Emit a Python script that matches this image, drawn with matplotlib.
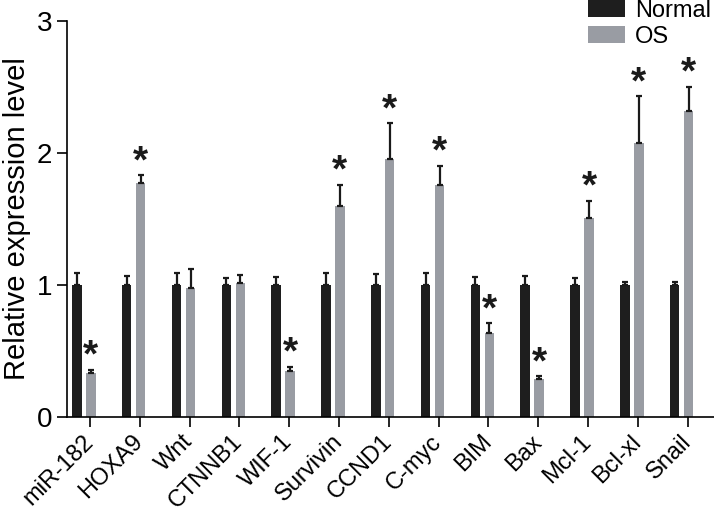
import matplotlib.pyplot as plt
import numpy as np

plt.rcParams['font.family'] = ['Liberation Sans', 'DejaVu Sans']

genes = ['miR-182', 'HOXA9', 'Wnt', 'CTNNB1', 'WIF-1', 'Survivin', 'CCND1',
         'C-myc', 'BIM', 'Bax', 'Mcl-1', 'Bcl-xl', 'Snail']
normal = [1.0] * 13
normal_err = [0.09, 0.07, 0.09, 0.05, 0.06, 0.09, 0.08, 0.09, 0.06, 0.07, 0.05, 0.025, 0.025]
os_vals = [0.33, 1.775, 0.975, 1.015, 0.345, 1.60, 1.955, 1.755, 0.64, 0.285, 1.505, 2.075, 2.315]
os_err = [0.03, 0.055, 0.145, 0.06, 0.033, 0.16, 0.27, 0.15, 0.07, 0.023, 0.135, 0.355, 0.185]
signif = [True, True, False, False, True, True, True, True, True, True, True, True, True]

fig = plt.figure(figsize=(7.14, 5.09), dpi=100)
ax = fig.add_axes([0.0938, 0.1807, 0.9062, 0.778])

x = np.arange(len(genes))
w = 0.19
ekw = dict(elinewidth=1.6, capsize=2.5, capthick=1.6, ecolor='#1a1a1a')
ax.bar(x - 0.26, normal, w, color='#1e1e1e', label='Normal',
       yerr=[np.zeros(13), normal_err], error_kw=ekw)
ax.bar(x + 0.02, os_vals, w, color='#999ca3', label='OS',
       yerr=[np.zeros(13), os_err], error_kw=ekw)

for i in range(len(genes)):
    if signif[i]:
        ax.text(x[i] + 0.02, os_vals[i] + os_err[i] + 0.1, '*', ha='center',
                va='center', fontsize=28, fontweight='bold', color='#1a1a1a')

ax.set_xlim(-0.46, 12.53)
ax.set_ylim(0, 3)
ax.set_yticks([0, 1, 2, 3])
ax.set_xticks(x)
ax.set_xticklabels(genes, rotation=45, ha='right', va='center',
                   rotation_mode='anchor', fontsize=17)
ax.tick_params(axis='y', labelsize=20, length=7.5, width=1.2, pad=3)
ax.tick_params(axis='x', length=7.5, width=1.2, pad=8)
ax.spines['top'].set_visible(False)
ax.spines['right'].set_visible(False)
ax.spines['left'].set_linewidth(1.2)
ax.spines['bottom'].set_linewidth(1.2)
ax.set_ylabel('Relative expression level', fontsize=21, labelpad=4)

ax.legend(loc='upper left', bbox_to_anchor=(588 / 714, 1.0), bbox_transform=fig.transFigure,
          frameon=False, fontsize=17, handlelength=1.57, handleheight=0.72,
          handletextpad=0.42, labelspacing=0.15, borderpad=0, borderaxespad=0)

fig.savefig('out.png', dpi=100)
